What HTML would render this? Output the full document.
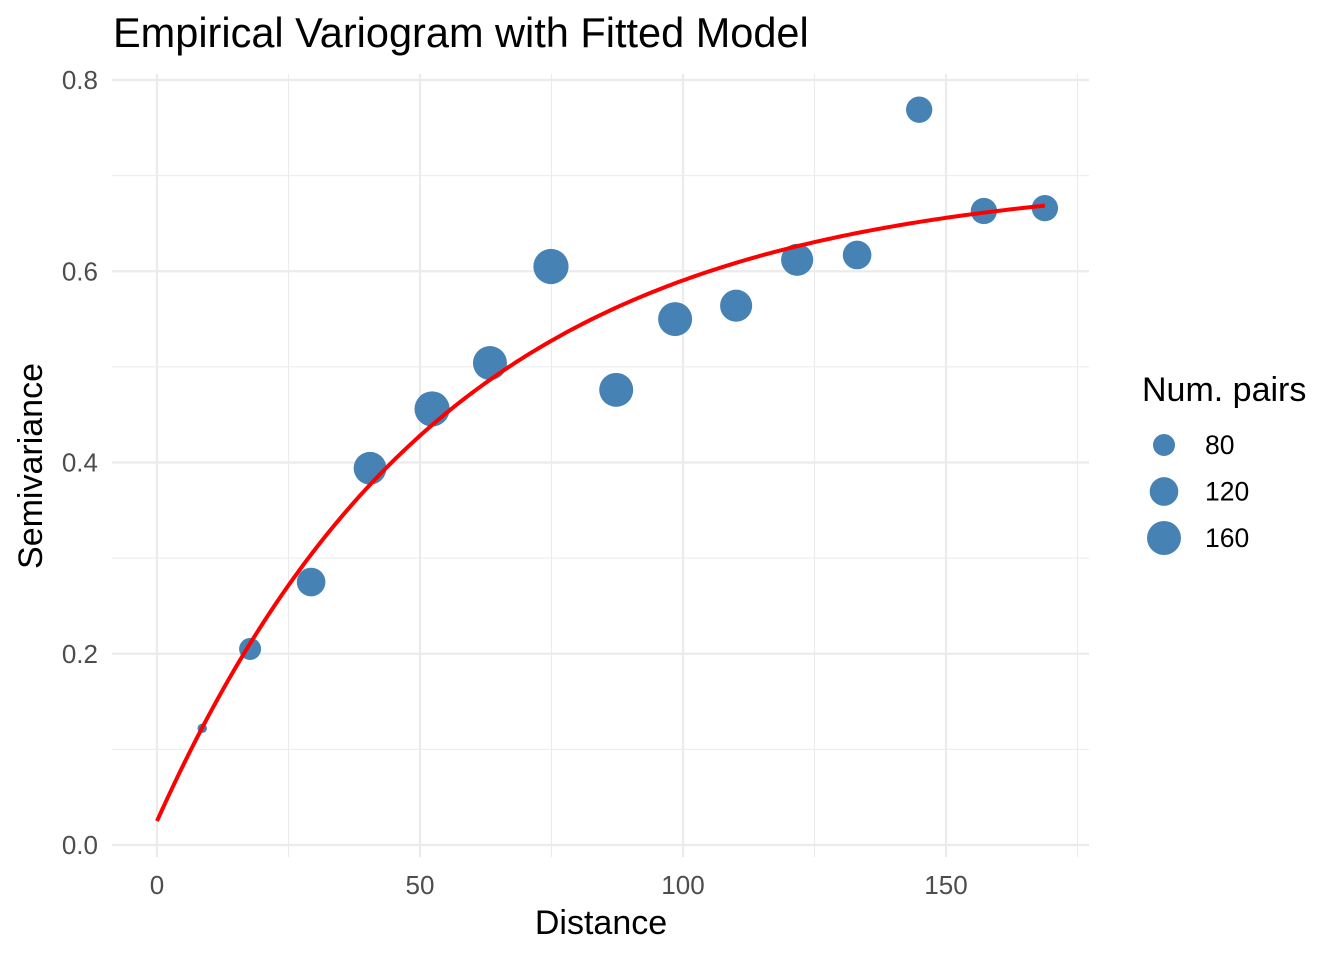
<!DOCTYPE html>
<html><head><meta charset="utf-8"><style>
body{margin:0;background:#fff;}
svg text{font-family:"Liberation Sans",Arial,sans-serif;}
</style></head><body>
<svg id="chart" width="1344" height="960" xmlns="http://www.w3.org/2000/svg">
<rect width="1344" height="960" fill="#fff"/>
<text x="113" y="47" font-size="41.5" fill="#000">Empirical Variogram with Fitted Model</text>
<g id="grid"></g>
<g id="marks"></g>
<text x="601" y="934" font-size="34" text-anchor="middle" fill="#000">Distance</text>
<text transform="translate(42,466) rotate(-90)" font-size="34" text-anchor="middle" fill="#000">Semivariance</text>
<g id="legend">
<text x="1142" y="401" font-size="34" fill="#000">Num. pairs</text>
</g>
</svg>
<script>
const distances=[8.6,17.7,29.3,40.5,52.3,63.3,74.9,87.3,98.5,110.1,121.7,133.1,144.9,157.2,168.8];
const gammas=[0.122,0.205,0.275,0.394,0.456,0.504,0.605,0.476,0.550,0.564,0.612,0.617,0.769,0.663,0.666];
const pairs=[33,80,120,150,170,160,170,160,160,145,145,120,105,105,105];
const xTicks=[0,50,100,150];
const yTicks=[0,0.2,0.4,0.6,0.8];
const legendVals=[80,120,160];
const modelNugget=0.025, modelSill=0.70, modelRange=55;

const NS='http://www.w3.org/2000/svg';
const X=v=>157+v*5.26;
const Y=v=>845-v*956.25;
const R=n=>Math.sqrt(Math.max(4,-47+2.1*n));
function el(t,a,p){const e=document.createElementNS(NS,t);for(const k in a)e.setAttribute(k,a[k]);p.appendChild(e);return e;}
const grid=document.getElementById('grid'),marks=document.getElementById('marks'),svg=document.getElementById('chart');
[25,75,125,175].forEach(v=>{const l=el('line',{x1:X(v),x2:X(v),y1:74,y2:857,stroke:'#ebebeb','stroke-width':1.1},grid);

});
[0.1,0.3,0.5,0.7].forEach(v=>{const l=el('line',{x1:112,x2:1089,y1:Y(v),y2:Y(v),stroke:'#ebebeb','stroke-width':1.1},grid);

});
xTicks.forEach(v=>{const l=el('line',{x1:X(v),x2:X(v),y1:74,y2:857,stroke:'#ebebeb','stroke-width':2.2},grid);


const t=el('text',{x:X(v),y:894,'font-size':26,'text-anchor':'middle',fill:'#4d4d4d'},svg);t.textContent=v;

});
yTicks.forEach(v=>{const l=el('line',{x1:112,x2:1089,y1:Y(v),y2:Y(v),stroke:'#ebebeb','stroke-width':2.2},grid);


const t=el('text',{x:98,y:Y(v)+9,'font-size':26,'text-anchor':'end',fill:'#4d4d4d'},svg);t.textContent=v.toFixed(1);

});
distances.forEach((d,i)=>{const c=el('circle',{cx:X(d),cy:Y(gammas[i]),r:R(pairs[i]),fill:'#4682b4'},marks);

});
let dp='';const xmax=distances[distances.length-1];
for(let i=0;i<=200;i++){const x=xmax*i/200;const y=modelNugget+(modelSill-modelNugget)*(1-Math.exp(-x/modelRange));dp+=(i?'L':'M')+X(x).toFixed(2)+','+Y(y).toFixed(2);}
const p=el('path',{d:dp,fill:'none',stroke:'#ff0000','stroke-width':4},marks);


const lg=document.getElementById('legend');
legendVals.forEach((v,i)=>{const y=445+i*46.5;
const c=el('circle',{cx:1164,cy:y,r:R(v),fill:'#4682b4'},lg);


const t=el('text',{x:1205,y:y+9,'font-size':26.5,fill:'#000'},lg);t.textContent=v;

});
</script>
</body></html>
